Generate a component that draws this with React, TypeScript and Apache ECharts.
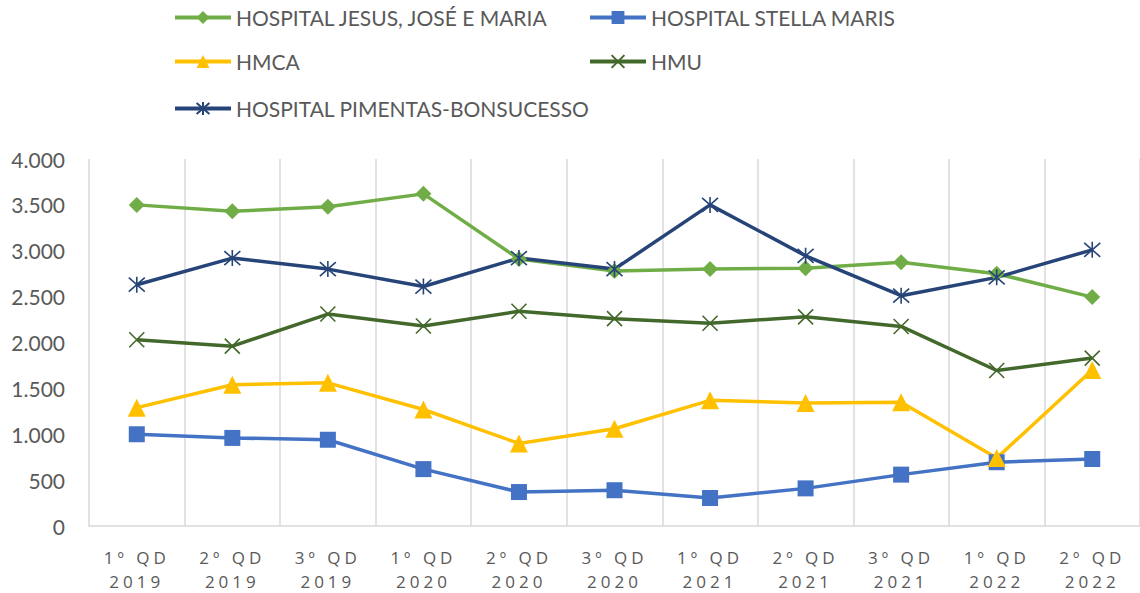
import React, { useEffect, useRef } from "react";
import * as echarts from "echarts";

const categories = [
  "1º QD\n2019", "2º QD\n2019", "3º QD\n2019",
  "1º QD\n2020", "2º QD\n2020", "3º QD\n2020",
  "1º QD\n2021", "2º QD\n2021", "3º QD\n2021",
  "1º QD\n2022", "2º QD\n2022",
];

const jesusJoseMaria = [3500, 3430, 3480, 3620, 2910, 2780, 2800, 2810, 2875, 2750, 2495];
const stellaMaris = [1000, 960, 940, 620, 370, 390, 305, 410, 560, 695, 730];
const hmca = [1290, 1540, 1560, 1270, 900, 1060, 1370, 1340, 1350, 740, 1700];
const hmu = [2030, 1960, 2310, 2180, 2340, 2260, 2210, 2280, 2175, 1695, 1830];
const pimentas = [2630, 2920, 2800, 2610, 2920, 2800, 3500, 2945, 2510, 2710, 3010];

const yTicks = [0, 500, 1000, 1500, 2000, 2500, 3000, 3500, 4000];

const X_PATH = "path://M0,0L16,16M16,0L0,16";
const STAR_PATH = "path://M1,1L15,15M15,1L1,15M8,0L8,16";

export default function App() {
  const ref = useRef<HTMLDivElement>(null);

  useEffect(() => {
    if (!ref.current) return;
    const chart = echarts.init(ref.current, undefined, { renderer: "svg" });
    const fmt = (v: number) => {
      const s = String(Math.round(v));
      return s.replace(/\B(?=(\d{3})+(?!\d))/g, ".");
    };
    const mk = (
      name: string,
      data: number[],
      color: string,
      symbol: string,
      size: number,
      stroke = false
    ) => ({
      name,
      type: "line",
      data,
      symbol,
      symbolSize: size,
      lineStyle: { color, width: 3.5 },
      itemStyle: stroke
        ? { color: "none", borderColor: color, borderWidth: 1.6 }
        : { color, borderWidth: 0 },
      emphasis: { disabled: true },
    });
    const legendText = { fontFamily: "Lato", fontSize: 21, color: "#595959" };
    const leg = (name: string, left: number, top: number) => ({
      data: [name],
      left,
      top,
      itemWidth: 56,
      itemHeight: 16,
      itemGap: 5,
      padding: 0,
      textStyle: legendText,
      lineStyle: { width: 4 },
      selectedMode: false,
    });
    chart.setOption({
      animation: false,
      backgroundColor: "#ffffff",
      legend: [
        leg("HOSPITAL JESUS, JOSÉ E MARIA", 173, 7),
        leg("HOSPITAL STELLA MARIS", 588, 7),
        leg("HMCA", 173, 51),
        leg("HMU", 588, 51),
        leg("HOSPITAL PIMENTAS-BONSUCESSO", 173, 98),
      ],
      grid: { left: 89, right: -2, top: 159, bottom: 67, containLabel: false },
      xAxis: {
        type: "category",
        data: categories,
        boundaryGap: true,
        axisLine: { show: true, lineStyle: { color: "#D9D9D9", width: 1.5 } },
        axisTick: { show: false },
        splitLine: { show: true, lineStyle: { color: "#D9D9D9", width: 1.5 } },
        axisLabel: {
          fontFamily: "Open Sans",
          fontSize: 17,
          color: "#595959",
          lineHeight: 24,
          margin: 19,
          interval: 0,
        },
      },
      yAxis: {
        type: "value",
        min: 0,
        max: yTicks[yTicks.length - 1],
        interval: 500,
        axisLine: { show: false },
        axisTick: { show: false },
        splitLine: { show: false },
        axisLabel: {
          fontFamily: "Lato",
          fontSize: 21,
          color: "#595959",
          margin: 24,
          formatter: (v: number) => fmt(v),
        },
      },
      series: [
        mk("HOSPITAL JESUS, JOSÉ E MARIA", jesusJoseMaria, "#70AD47", "diamond", 16),
        mk("HOSPITAL STELLA MARIS", stellaMaris, "#4472C4", "rect", 16),
        mk("HMCA", hmca, "#FFC000", "triangle", 18),
        mk("HMU", hmu, "#43682B", X_PATH, 15, true),
        mk("HOSPITAL PIMENTAS-BONSUCESSO", pimentas, "#264478", STAR_PATH, 16, true),
      ],
    });
    return () => chart.dispose();
  }, []);

  return (
    <>
      <style>{`.chartbox text[style*="Open Sans"], .chartbox text[font-family*="Open Sans"] { letter-spacing: 4px; }`}</style>
      <div
        ref={ref}
        className="chartbox"
        style={{ position: "fixed", left: 0, top: 0, width: 1140, height: 593 }}
      />
    </>
  );
}
